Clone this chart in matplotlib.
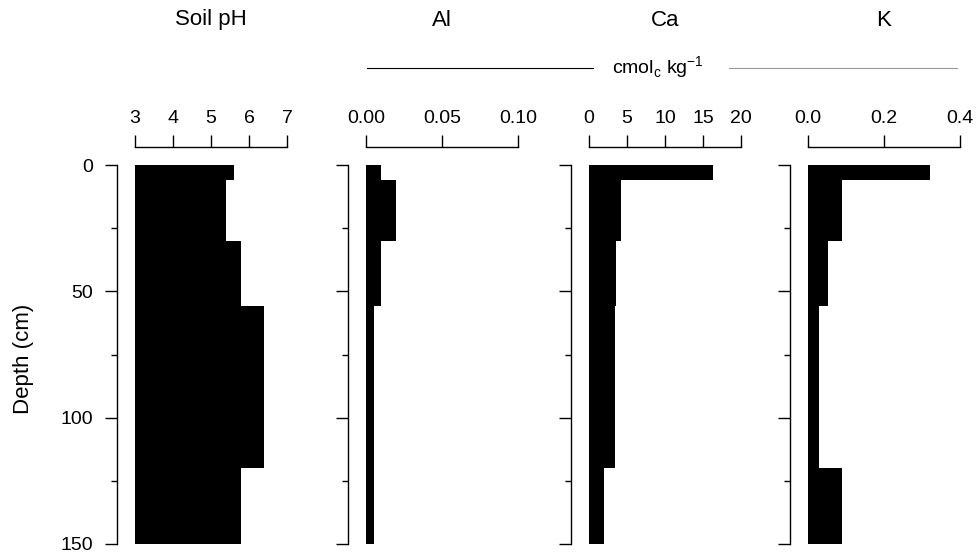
import matplotlib
matplotlib.use("Agg")
import matplotlib.pyplot as plt
import numpy as np
from matplotlib.lines import Line2D
from matplotlib.ticker import MultipleLocator

plt.rcParams['font.family'] = ['Liberation Sans', 'DejaVu Sans']

# soil layers (cm)
layer_top = [0, 6, 30, 56, 120]
layer_bottom = [6, 30, 56, 120, 150]

ph = [5.6, 5.4, 5.8, 6.4, 5.8]
al = [0.010, 0.020, 0.010, 0.005, 0.005]
ca = [16.3, 4.25, 3.5, 3.4, 2.0]
k = [0.32, 0.09, 0.052, 0.030, 0.09]

titles = ['Soil pH', 'Al', 'Ca', 'K']
values = [ph, al, ca, k]
xlims = [(3, 7), (0, 0.10), (0, 20), (0, 0.4)]
xticks = [[3, 4, 5, 6, 7], [0, 0.05, 0.10], [0, 5, 10, 15, 20], [0, 0.2, 0.4]]
xticklabels = [['3', '4', '5', '6', '7'], ['0.00', '0.05', '0.10'],
               ['0', '5', '10', '15', '20'], ['0.0', '0.2', '0.4']]
depth_ticks = [0, 50, 100, 150]

W, H = 976, 558
fig = plt.figure(figsize=(9.76, 5.58), dpi=100)

lefts_px = [135, 366, 589, 808]
width_px = 152
top_px, bot_px = 165, 544

tops = np.array(layer_top)
thick = np.array(layer_bottom) - tops

for i in range(4):
    ax = fig.add_axes([lefts_px[i] / W, 1 - bot_px / H, width_px / W, (bot_px - top_px) / H])
    lo, hi = xlims[i]
    v = np.array(values[i])
    ax.barh(tops, v - lo, height=thick, left=lo, align='edge', color='black', edgecolor='none')
    ax.set_xlim(lo, hi)
    ax.set_ylim(150, 0)

    for s in ['right', 'bottom']:
        ax.spines[s].set_visible(False)
    ax.spines['left'].set_position(('outward', 13))
    ax.spines['top'].set_position(('outward', 13))
    ax.spines['left'].set_bounds(0, 150)
    ax.spines['top'].set_bounds(lo, hi)
    for s in ['left', 'top']:
        ax.spines[s].set_linewidth(1.0)

    ax.xaxis.tick_top()
    ax.set_xticks(xticks[i])
    ax.set_xticklabels(xticklabels[i])
    ax.yaxis.set_major_locator(MultipleLocator(50))
    ax.yaxis.set_minor_locator(MultipleLocator(25))
    ax.tick_params(axis='x', which='major', direction='out', length=8.5, width=1.0,
                   pad=6, labelsize=14)
    ax.tick_params(axis='y', which='major', direction='out', length=8.5, width=1.0,
                   pad=9, labelsize=14)
    ax.tick_params(axis='y', which='minor', direction='out', length=4.5, width=1.0)
    if i == 0:
        ax.set_yticks(depth_ticks)
        ax.set_yticklabels([str(d) for d in depth_ticks])
    else:
        ax.set_yticklabels([])

    fig.text((lefts_px[i] + width_px / 2) / W, 1 - 20 / H, titles[i],
             ha='center', va='center', fontsize=16)

fig.text(23 / W, 1 - 359 / H, 'Depth (cm)', rotation=90,
         ha='center', va='center', fontsize=16)

# units label shared by Al, Ca, K
y_unit = 1 - 67.5 / H
fig.add_artist(Line2D([367 / W, 593 / W], [y_unit, y_unit], color='black', lw=0.8))
fig.add_artist(Line2D([729 / W, 957 / W], [y_unit, y_unit], color='#999999', lw=0.8))
fig.text(658 / W, y_unit, r'cmol$_\mathregular{c}$ kg$^\mathregular{-1}$',
         ha='center', va='center', fontsize=14)

fig.savefig('out.png', dpi=100)
